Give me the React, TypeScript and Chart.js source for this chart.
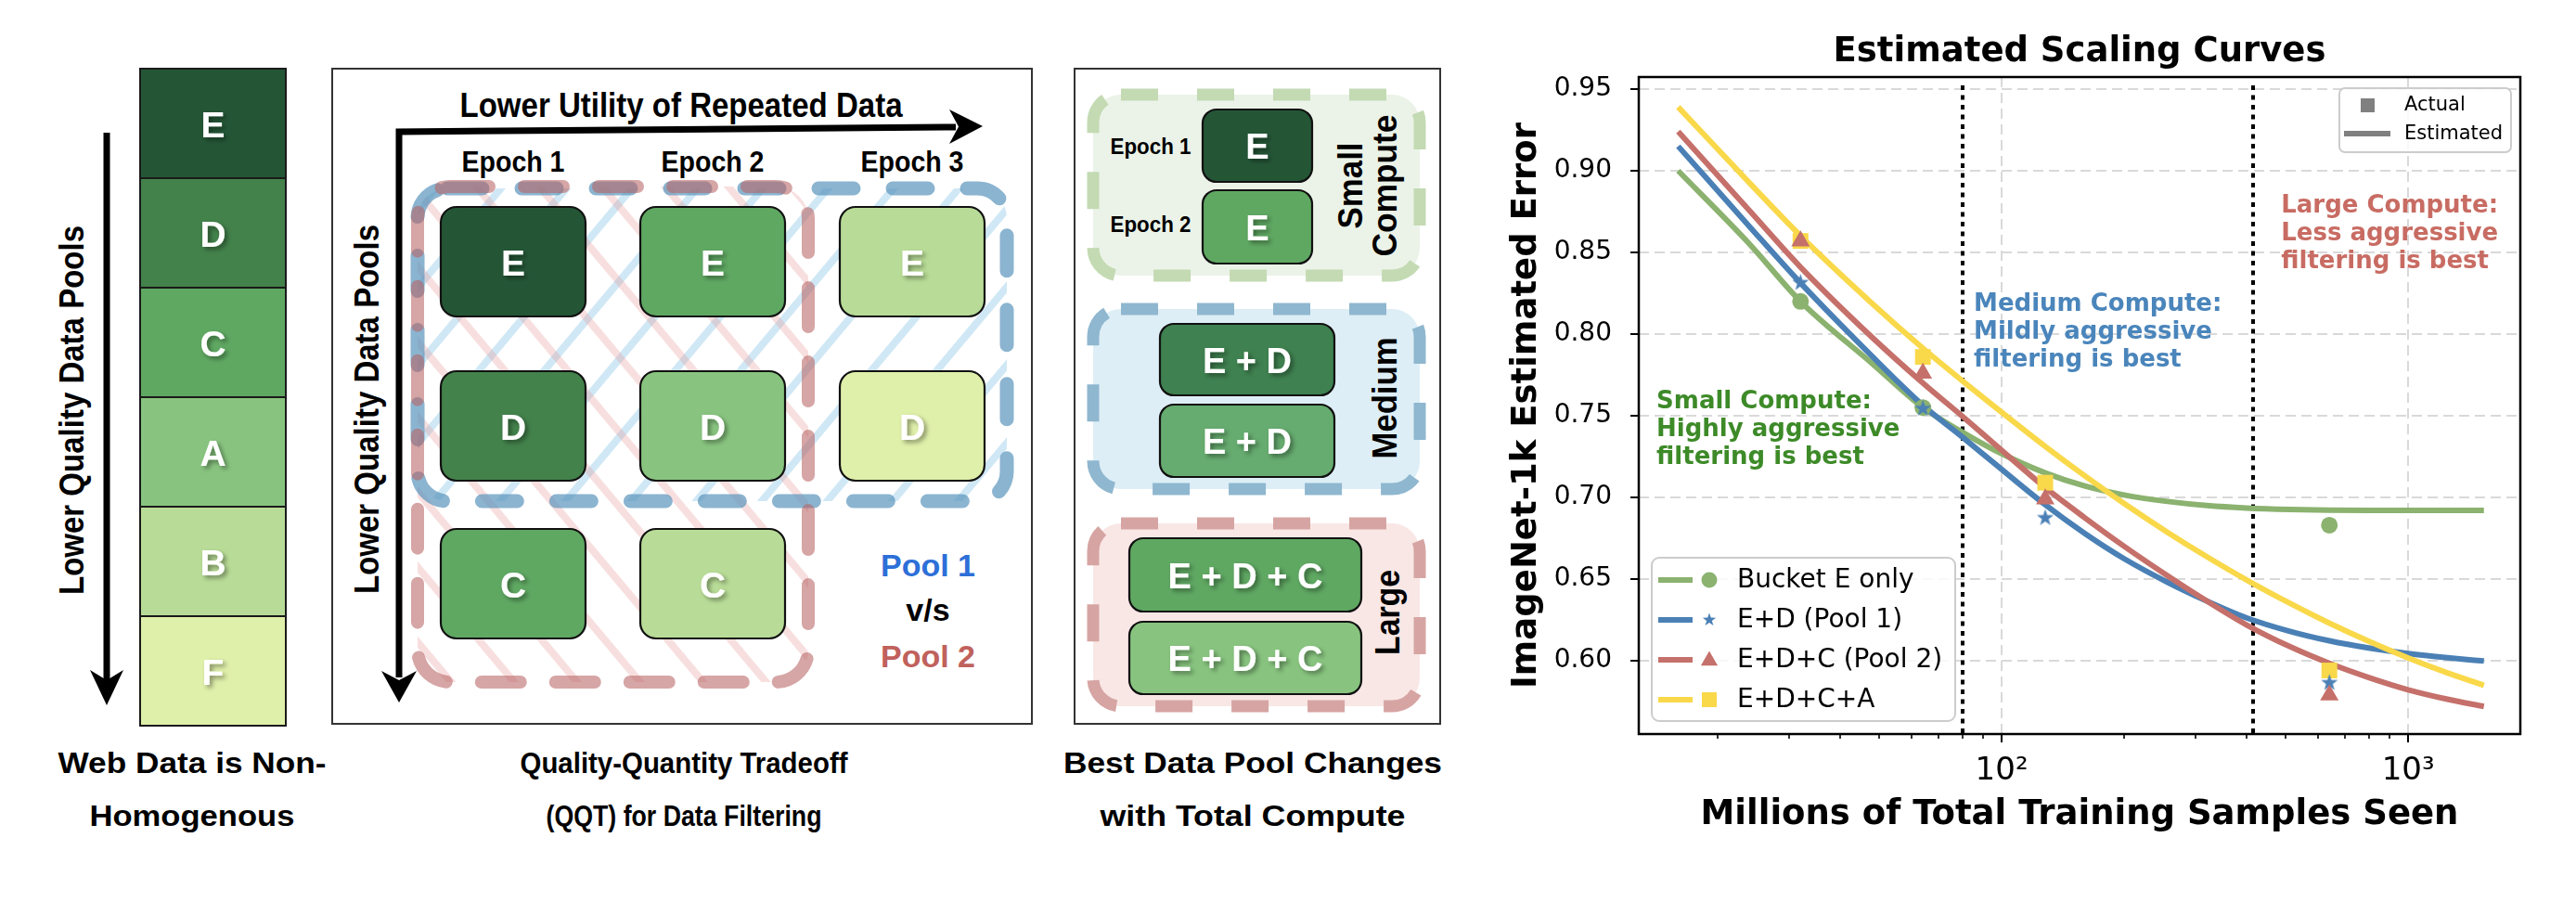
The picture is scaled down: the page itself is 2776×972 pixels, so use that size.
import React, { useEffect, useRef } from "react";
import { Chart, registerables } from "chart.js";

Chart.register(...registerables);

// ---------------- Chart data ----------------
const CURVE_X = [16, 24, 32, 48, 64, 80, 96, 128, 160, 200, 256, 320, 400, 512, 640, 800, 1000, 1250, 1536];
const CURVE_E = [0.900, 0.855, 0.820, 0.782, 0.755, 0.740, 0.729, 0.715, 0.707, 0.7015, 0.6975, 0.695, 0.6935, 0.6926, 0.6922, 0.692, 0.692, 0.692, 0.692];
const CURVE_ED = [0.915, 0.8657, 0.8313, 0.7864, 0.7564, 0.737, 0.7208, 0.6955, 0.678, 0.6625, 0.648, 0.6365, 0.6263, 0.618, 0.6122, 0.6078, 0.6044, 0.6018, 0.5998];
const CURVE_EDC = [0.924, 0.8754, 0.841, 0.798, 0.770, 0.7497, 0.7327, 0.706, 0.6876, 0.6701, 0.652, 0.6365, 0.622, 0.6086, 0.5984, 0.5897, 0.5822, 0.5764, 0.572];
const CURVE_EDCA = [0.939, 0.8924, 0.8602, 0.8188, 0.7913, 0.7714, 0.7556, 0.7312, 0.7133, 0.6963, 0.6786, 0.6636, 0.6495, 0.6351, 0.623, 0.6119, 0.6017, 0.5925, 0.5849];

const ACTUAL_X = [32, 64, 128, 640];
const ACTUAL_E = [0.820, 0.755, null, 0.683];
const ACTUAL_ED = [0.832, 0.755, 0.688, 0.587];
const ACTUAL_EDC = [0.857, 0.776, 0.699, 0.579];
const ACTUAL_EDCA = [0.857, 0.786, 0.709, 0.594];

const SERIES_LABELS = ["Bucket E only", "E+D (Pool 1)", "E+D+C (Pool 2)", "E+D+C+A"];
const SERIES_COLORS = ["#8bb26f", "#4a80b5", "#c5706a", "#f9d84a"];
const SERIES_MARKERS = ["circle", "star", "triangle", "rect"];

const Y_TICKS = [0.6, 0.65, 0.7, 0.75, 0.8, 0.85, 0.9, 0.95];
const X_TICKS = [20, 30, 40, 50, 60, 70, 80, 90, 100, 200, 300, 400, 500, 600, 700, 800, 900, 1000];
const X_MAJOR = [100, 1000];
const X_TICK_LABELS: Record<number, string> = { 100: "10²", 1000: "10³" };
const COMPUTE_BOUNDARIES = [80, 416];

const ANNOTATIONS = [
  { lines: ["Large Compute:", "Less aggressive", "filtering is best"], x: 487, y: 0.878, color: "#c86c63" },
  { lines: ["Medium Compute:", "Mildly aggressive", "filtering is best"], x: 85.4, y: 0.818, color: "#4a85bb" },
  { lines: ["Small Compute:", "Highly aggressive", "filtering is best"], x: 14.15, y: 0.7586, color: "#3d8a28" },
];

// ---------------- Diagram data ----------------
const POOL_LETTERS = ["E", "D", "C", "A", "B", "F"];
const POOL_COLORS = ["#245636", "#43824b", "#5fa862", "#88c47f", "#b8dc97", "#dff0aa"];
const EPOCH_LABELS = ["Epoch 1", "Epoch 2", "Epoch 3"];
const GRID_LETTERS = [["E", "E", "E"], ["D", "D", "D"], ["C", "C"]];
const GRID_COLORS = [
  ["#245636", "#5fa862", "#b8dc97"],
  ["#43824b", "#88c47f", "#dff0aa"],
  ["#5fa862", "#b8dc97"],
];

const FONT = "'Liberation Sans', Arial, Helvetica, sans-serif";
const CFONT = "'DejaVu Sans', sans-serif";

function T(p: any) {
  const { x, y, children, size = 33, fill = "#000", len, rot, shadow, anchor = "middle" } = p;
  const props: any = {
    fontFamily: FONT,
    fontWeight: "bold",
    fontSize: size,
    fill,
    textAnchor: anchor,
    dominantBaseline: "central",
  };
  if (len) {
    props.textLength = len;
    props.lengthAdjust = "spacingAndGlyphs";
  }
  if (shadow) props.filter = "url(#ts)";
  if (rot) {
    return (
      <text transform={`translate(${x},${y}) rotate(${rot})`} {...props}>
        {children}
      </text>
    );
  }
  return (
    <text x={x} y={y} {...props}>
      {children}
    </text>
  );
}

function Box(p: any) {
  const { x, y, w, h, fill, label, size = 39, rx = 17 } = p;
  return (
    <g>
      <rect x={x} y={y} width={w} height={h} rx={rx} fill={fill} stroke="#111" strokeWidth={2.2} />
      <T x={x + w / 2} y={y + h / 2 + 1} size={size} fill="#fff" shadow>
        {label}
      </T>
    </g>
  );
}

function Diagram() {
  const colX = [475, 690, 905];
  const rowY = [223, 400, 570];
  return (
    <svg width={1580} height={972} style={{ position: "absolute", left: 0, top: 0 }}>
      <defs>
        <filter id="ts" x="-50%" y="-50%" width="200%" height="200%">
          <feDropShadow dx="3" dy="3" stdDeviation="2.5" floodColor="#000" floodOpacity="0.4" />
        </filter>
        <pattern id="hb" patternUnits="userSpaceOnUse" width="54" height="54" patternTransform="rotate(40)">
          <rect x="0" y="0" width="8" height="54" fill="rgba(150,205,232,0.45)" />
        </pattern>
        <pattern id="hr" patternUnits="userSpaceOnUse" width="52" height="52" patternTransform="rotate(-40)">
          <rect x="0" y="0" width="8" height="52" fill="rgba(232,150,150,0.3)" />
        </pattern>
      </defs>

      {/* Panel 1 */}
      {POOL_LETTERS.map((L, i) => (
        <g key={"p" + i}>
          <rect x={151} y={74 + i * 118} width={157} height={118} fill={POOL_COLORS[i]} stroke="#1a1a1a" strokeWidth={2} />
          <T x={229.5} y={74 + i * 118 + 60} size={39} fill="#fff" shadow>
            {L}
          </T>
        </g>
      ))}
      <line x1={115} y1={143} x2={115} y2={735} stroke="#000" strokeWidth={7} />
      <polygon points="97,722 115,733 133,722 115,760" fill="#000" />
      <T x={77} y={442} size={37} rot={-90} len={398}>
        Lower Quality Data Pools
      </T>
      <T x={207} y={822} size={31} len={289}>
        Web Data is Non-
      </T>
      <T x={207} y={879} size={31} len={221}>
        Homogenous
      </T>

      {/* Panel 2 */}
      <rect x={358} y={74} width={754} height={706} fill="#fff" stroke="#333" strokeWidth={2} />
      <rect x={450} y={203} width={635} height={337} rx={32} fill="url(#hb)" />
      <rect x={450} y={201} width={421} height={534} rx={35} fill="url(#hr)" />
      {GRID_LETTERS.map((row, r) =>
        row.map((L, c) => (
          <Box key={"g" + r + c} x={colX[c]} y={rowY[r]} w={156} h={118} fill={GRID_COLORS[r][c]} label={L} />
        ))
      )}
      <rect
        x={450}
        y={203}
        width={635}
        height={337}
        rx={32}
        fill="none"
        stroke="rgba(90,148,188,0.7)"
        strokeWidth={15}
        strokeDasharray="38 42"
        strokeLinecap="round"
      />
      <rect
        x={450}
        y={201}
        width={421}
        height={534}
        rx={35}
        fill="none"
        stroke="rgba(185,100,100,0.58)"
        strokeWidth={14}
        strokeDasharray="42 38"
        strokeLinecap="round"
      />
      <path d="M 1030 137 L 430 142 L 430 730" fill="none" stroke="#000" strokeWidth={7} />
      <polygon points="1023,118 1033,136.5 1023,155 1059,136" fill="#000" />
      <polygon points="411,723 430,733 449,723 430,757" fill="#000" />
      <T x={734} y={113} size={36} len={477}>
        Lower Utility of Repeated Data
      </T>
      <T x={395} y={441} size={37} rot={-90} len={398}>
        Lower Quality Data Pools
      </T>
      {EPOCH_LABELS.map((e, i) => (
        <T key={e} x={colX[i] + 78} y={174} size={31} len={111}>
          {e}
        </T>
      ))}
      <T x={1000} y={609} size={34} fill="#2d6fd8">
        Pool 1
      </T>
      <T x={1000} y={657} size={34}>
        v/s
      </T>
      <T x={1000} y={707} size={34} fill="#c0615c">
        Pool 2
      </T>
      <T x={737} y={822} size={32} len={353}>
        Quality-Quantity Tradeoff
      </T>
      <T x={737} y={879} size={32} len={297}>
        (QQT) for Data Filtering
      </T>

      {/* Panel 3 */}
      <rect x={1158} y={74} width={394} height={706} fill="#fff" stroke="#333" strokeWidth={2} />
      <rect x={1178} y={102} width={352} height={195} rx={30} fill="#ebf3e8" stroke="#c3dab3" strokeWidth={13} strokeDasharray="40 42" />
      <rect x={1178} y={333} width={352} height={194} rx={30} fill="#ddeef6" stroke="#8fb7cf" strokeWidth={13} strokeDasharray="40 42" />
      <rect x={1178} y={564} width={352} height={197} rx={30} fill="#f8e7e5" stroke="#d6a5a3" strokeWidth={13} strokeDasharray="40 42" />
      <Box x={1296} y={118} w={118} h={78} fill="#245636" label="E" size={38} rx={15} />
      <Box x={1296} y={205} w={118} h={79} fill="#5fa862" label="E" size={38} rx={15} />
      <T x={1240} y={157} size={24} len={87}>
        Epoch 1
      </T>
      <T x={1240} y={241} size={24} len={87}>
        Epoch 2
      </T>
      <T x={1455} y={200} size={37} rot={-90} len={93}>
        Small
      </T>
      <T x={1492} y={200} size={37} rot={-90} len={153}>
        Compute
      </T>
      <Box x={1250} y={349} w={188} h={77} fill="#3f8150" label="E + D" size={38} rx={15} />
      <Box x={1250} y={436} w={188} h={78} fill="#66ab6f" label="E + D" size={38} rx={15} />
      <T x={1492} y={429} size={37} rot={-90} len={131}>
        Medium
      </T>
      <Box x={1217} y={580} w={250} h={79} fill="#5fa862" label="E + D + C" size={38} rx={15} />
      <Box x={1217} y={670} w={250} h={78} fill="#88c47f" label="E + D + C" size={38} rx={15} />
      <T x={1495} y={660} size={37} rot={-90} len={92}>
        Large
      </T>
      <T x={1350} y={822} size={32} len={408}>
        Best Data Pool Changes
      </T>
      <T x={1350} y={879} size={32} len={329}>
        with Total Compute
      </T>
    </svg>
  );
}

// ---------------- Chart helpers ----------------
function starPath(g: CanvasRenderingContext2D, cx: number, cy: number, R: number) {
  const r = R * 0.4;
  g.beginPath();
  for (let i = 0; i < 10; i++) {
    const ang = -Math.PI / 2 + (i * Math.PI) / 5;
    const rr = i % 2 ? r : R;
    g.lineTo(cx + rr * Math.cos(ang), cy + rr * Math.sin(ang));
  }
  g.closePath();
}

function makeStar(color: string, R: number) {
  const c = document.createElement("canvas");
  const s = Math.ceil(R * 2 + 2);
  c.width = s;
  c.height = s;
  const g = c.getContext("2d")!;
  g.fillStyle = color;
  starPath(g, s / 2, s / 2 + 1, R);
  g.fill();
  return c;
}

function drawMarker(ctx: CanvasRenderingContext2D, kind: string, x: number, y: number, color: string, size: number) {
  ctx.fillStyle = color;
  ctx.beginPath();
  if (kind === "circle") ctx.arc(x, y, size, 0, Math.PI * 2);
  else if (kind === "triangle") {
    ctx.moveTo(x, y - size);
    ctx.lineTo(x + size * 0.866, y + size * 0.5);
    ctx.lineTo(x - size * 0.866, y + size * 0.5);
    ctx.closePath();
  } else if (kind === "rect") ctx.rect(x - size / 2, y - size / 2, size, size);
  else if (kind === "star") starPath(ctx, x, y, size);
  ctx.fill();
}

function roundRect(ctx: CanvasRenderingContext2D, x: number, y: number, w: number, h: number, r: number) {
  ctx.beginPath();
  ctx.moveTo(x + r, y);
  ctx.lineTo(x + w - r, y);
  ctx.arcTo(x + w, y, x + w, y + r, r);
  ctx.lineTo(x + w, y + h - r);
  ctx.arcTo(x + w, y + h, x + w - r, y + h, r);
  ctx.lineTo(x + r, y + h);
  ctx.arcTo(x, y + h, x, y + h - r, r);
  ctx.lineTo(x, y + r);
  ctx.arcTo(x, y, x + r, y, r);
  ctx.closePath();
}

const decorPlugin = {
  id: "decor",
  beforeDatasetsDraw(chart: any) {
    const { ctx, chartArea: a, scales } = chart;
    const xs = scales.x;
    const ys = scales.y;
    ctx.save();
    ctx.strokeStyle = "#d9d9d9";
    ctx.lineWidth = 2;
    ctx.setLineDash([11, 6]);
    for (const v of Y_TICKS) {
      const py = Math.round(ys.getPixelForValue(v));
      ctx.beginPath();
      ctx.moveTo(a.left, py);
      ctx.lineTo(a.right, py);
      ctx.stroke();
    }
    for (const v of X_MAJOR) {
      const px = Math.round(xs.getPixelForValue(v));
      ctx.beginPath();
      ctx.moveTo(px, a.top);
      ctx.lineTo(px, a.bottom);
      ctx.stroke();
    }
    ctx.strokeStyle = "#000";
    ctx.lineWidth = 4;
    ctx.setLineDash([5, 5.5]);
    for (const v of COMPUTE_BOUNDARIES) {
      const px = Math.round(xs.getPixelForValue(v));
      ctx.beginPath();
      ctx.moveTo(px, a.top + 9);
      ctx.lineTo(px, a.bottom);
      ctx.stroke();
    }
    ctx.restore();
  },
  afterDatasetsDraw(chart: any) {
    const { ctx, chartArea: a, scales } = chart;
    const xs = scales.x;
    const ys = scales.y;
    ctx.save();
    ctx.setLineDash([]);

    // annotations
    ctx.font = `bold 26px ${CFONT}`;
    ctx.textAlign = "left";
    ctx.textBaseline = "middle";
    for (const an of ANNOTATIONS) {
      const px = xs.getPixelForValue(an.x);
      const py = ys.getPixelForValue(an.y);
      ctx.fillStyle = an.color;
      an.lines.forEach((t, i) => ctx.fillText(t, px, py + i * 30));
    }

    // frame
    ctx.strokeStyle = "#000";
    ctx.lineWidth = 2.5;
    ctx.strokeRect(a.left, a.top, a.right - a.left, a.bottom - a.top);

    // tick marks
    ctx.lineWidth = 2;
    for (const v of Y_TICKS) {
      const py = Math.round(ys.getPixelForValue(v));
      ctx.beginPath();
      ctx.moveTo(a.left - 9, py);
      ctx.lineTo(a.left, py);
      ctx.stroke();
    }
    for (const v of X_TICKS) {
      const major = X_MAJOR.includes(v);
      const px = Math.round(xs.getPixelForValue(v));
      ctx.lineWidth = major ? 2 : 1.6;
      ctx.beginPath();
      ctx.moveTo(px, a.bottom);
      ctx.lineTo(px, a.bottom + (major ? 9 : 5));
      ctx.stroke();
    }

    // series legend (bottom-left)
    const lw = 327;
    const lh = 176;
    const lx = a.left + 14;
    const ly = a.bottom - 14 - lh;
    roundRect(ctx, lx, ly, lw, lh, 8);
    ctx.fillStyle = "rgba(255,255,255,0.8)";
    ctx.fill();
    ctx.strokeStyle = "#cccccc";
    ctx.lineWidth = 2;
    ctx.stroke();
    ctx.font = `28px ${CFONT}`;
    ctx.textAlign = "left";
    ctx.textBaseline = "middle";
    SERIES_LABELS.forEach((lab, i) => {
      const cy = ly + 24 + i * 43;
      ctx.strokeStyle = SERIES_COLORS[i];
      ctx.lineWidth = 6;
      ctx.beginPath();
      ctx.moveTo(lx + 7, cy);
      ctx.lineTo(lx + 44, cy);
      ctx.stroke();
      const kind = SERIES_MARKERS[i];
      const sz = kind === "circle" ? 8.5 : kind === "star" ? 7.5 : kind === "triangle" ? 10.5 : 16;
      drawMarker(ctx, kind, lx + 62, cy + (kind === "triangle" ? 1 : 0), SERIES_COLORS[i], sz);
      ctx.fillStyle = "#000";
      ctx.fillText(lab, lx + 92, cy + 1);
    });

    // actual / estimated legend (top-right)
    const bw = 185;
    const bh = 69;
    const bx = a.right - 10 - bw;
    const by = a.top + 12;
    roundRect(ctx, bx, by, bw, bh, 6);
    ctx.fillStyle = "rgba(255,255,255,0.8)";
    ctx.fill();
    ctx.strokeStyle = "#cccccc";
    ctx.lineWidth = 2;
    ctx.stroke();
    ctx.fillStyle = "#808080";
    ctx.fillRect(bx + 23, by + 11, 15, 15);
    ctx.strokeStyle = "#808080";
    ctx.lineWidth = 6;
    ctx.beginPath();
    ctx.moveTo(bx + 5, by + 49);
    ctx.lineTo(bx + 55, by + 49);
    ctx.stroke();
    ctx.fillStyle = "#000";
    ctx.font = `21px ${CFONT}`;
    ctx.fillText("Actual", bx + 70, by + 19);
    ctx.fillText("Estimated", bx + 70, by + 50);

    // title
    ctx.font = `bold 37px ${CFONT}`;
    ctx.textAlign = "center";
    ctx.fillStyle = "#000";
    ctx.fillText("Estimated Scaling Curves", (a.left + a.right) / 2, 56);
    ctx.restore();
  },
};

function ScalingChart() {
  const ref = useRef<HTMLCanvasElement>(null);
  useEffect(() => {
    const canvas = ref.current;
    if (!canvas) return;
    const star = makeStar(SERIES_COLORS[1], 9.5);
    const pts = (xs: number[], ys: (number | null)[]) =>
      xs.map((x, i) => ({ x, y: ys[i] })).filter((p) => p.y !== null);
    const curves = [CURVE_E, CURVE_ED, CURVE_EDC, CURVE_EDCA];
    const actuals = [ACTUAL_E, ACTUAL_ED, ACTUAL_EDC, ACTUAL_EDCA];
    const markerStyle: any[] = ["circle", star, "triangle", "rect"];
    const markerRadius = [9, 9.5, 11.5, 12];
    const markerOrder = [4, 2, 1, 3];
    const curveOrder = [8, 7, 6, 5];

    const datasets: any[] = [];
    curves.forEach((c, i) => {
      datasets.push({
        label: SERIES_LABELS[i],
        data: pts(CURVE_X, c),
        borderColor: SERIES_COLORS[i],
        backgroundColor: SERIES_COLORS[i],
        borderWidth: 6,
        pointRadius: 0,
        cubicInterpolationMode: "monotone",
        fill: false,
        order: curveOrder[i],
      });
    });
    actuals.forEach((v, i) => {
      datasets.push({
        label: SERIES_LABELS[i] + " actual",
        data: pts(ACTUAL_X, v),
        showLine: false,
        pointStyle: markerStyle[i],
        pointRadius: markerRadius[i],
        backgroundColor: SERIES_COLORS[i],
        borderColor: SERIES_COLORS[i],
        borderWidth: 0,
        order: markerOrder[i],
      });
    });

    Chart.defaults.font.family = "'DejaVu Sans', sans-serif";
    const chart = new Chart(canvas, {
      type: "line",
      data: { datasets },
      options: {
        responsive: false,
        animation: false,
        events: [],
        layout: { padding: { top: 83, right: 60, left: 0, bottom: 0 } },
        plugins: {
          legend: { display: false },
          tooltip: { enabled: false },
          title: { display: false },
        },
        scales: {
          x: {
            type: "logarithmic",
            min: 12.8,
            max: 1888,
            afterBuildTicks: (s: any) => {
              s.ticks = X_TICKS.map((v) => ({ value: v }));
            },
            afterFit: (s: any) => {
              s.height = 181;
            },
            grid: { display: false },
            border: { display: false },
            ticks: {
              autoSkip: false,
              maxRotation: 0,
              minRotation: 0,
              padding: 12,
              color: "#000",
              font: { size: 34, family: "'DejaVu Sans', sans-serif" },
              callback: (v: any) => X_TICK_LABELS[Number(v)] || "",
            },
            title: {
              display: true,
              text: "Millions of Total Training Samples Seen",
              color: "#000",
              font: { size: 37, weight: "bold", family: "'DejaVu Sans', sans-serif" },
              padding: { top: 0, bottom: 71.8 },
            },
          },
          y: {
            type: "linear",
            min: 0.5551,
            max: 0.9574,
            afterBuildTicks: (s: any) => {
              s.ticks = Y_TICKS.map((v) => ({ value: v }));
            },
            afterFit: (s: any) => {
              s.width = 186;
            },
            grid: { display: false },
            border: { display: false },
            ticks: {
              padding: 21,
              color: "#000",
              font: { size: 28, family: "'DejaVu Sans', sans-serif" },
              callback: (v: any) => Number(v).toFixed(2),
            },
            title: {
              display: true,
              text: "ImageNet-1k Estimated Error",
              color: "#000",
              font: { size: 37, weight: "bold", family: "'DejaVu Sans', sans-serif" },
              padding: { top: 42.8, bottom: 0 },
            },
          },
        },
      } as any,
      plugins: [decorPlugin as any],
    });
    return () => chart.destroy();
  }, []);
  return (
    <canvas
      ref={ref}
      width={1196}
      height={972}
      style={{ position: "absolute", left: 1580, top: 0, width: 1196, height: 972 }}
    />
  );
}

export default function App() {
  return (
    <div
      style={{
        position: "absolute",
        left: 0,
        top: 0,
        width: 2776,
        height: 972,
        background: "#fff",
        overflow: "hidden",
      }}
    >
      <Diagram />
      <ScalingChart />
    </div>
  );
}
